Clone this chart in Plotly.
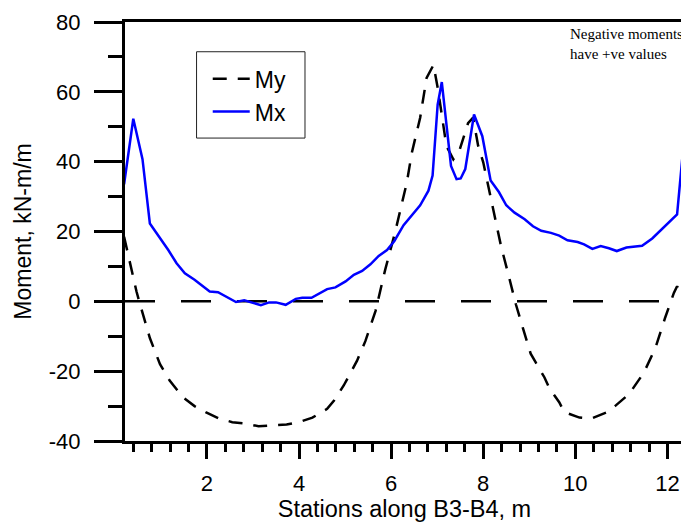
import plotly.graph_objects as go

# Stations (m) and moments (kN-m/m)
my_x = [0.2, 0.37, 0.47, 0.55, 0.76, 0.98, 1.19, 1.48, 1.73, 1.97, 2.27, 2.55, 2.85, 3.12,
        3.46, 3.73, 4.04, 4.29, 4.61, 4.76, 4.97, 5.08, 5.26, 5.44, 5.66, 5.87, 6.09, 6.34,
        6.45, 6.63, 6.77, 6.92, 7.02, 7.20, 7.35, 7.49, 7.67, 7.78, 7.89, 8.0, 8.14, 8.21,
        8.39, 8.54, 8.71, 8.86, 9.03, 9.14, 9.33, 9.44, 9.65, 9.76, 10.09, 10.34, 10.70,
        10.88, 11.17, 11.49, 11.74, 11.95, 12.14, 12.21, 12.38]
my_y = [18.5, 8.5, 2.8, -1.0, -10.5, -18.0, -22.7, -27.5, -30.0, -31.7, -33.6, -34.6, -35.0, -35.8,
        -35.5, -35.3, -34.4, -33.3, -30.8, -28.4, -24.1, -21.3, -17.0, -11.4, -2.8, 9.0, 20.0, 34.0,
        42.6, 52.6, 64.0, 67.7, 60.5, 44.5, 40.7, 43.5, 51.0, 52.6, 44.5, 39.8, 31.3, 26.5,
        15.6, 8.0, -0.9, -7.6, -15.0, -17.5, -21.8, -25.0, -28.9, -31.7, -33.3, -33.6, -31.7,
        -29.8, -26.5, -20.4, -13.3, -4.7, 2.4, 4.3, 0.5]

mx_x = [0.2, 0.4, 0.6, 0.76, 1.16, 1.34, 1.52, 1.73, 2.06, 2.24, 2.63, 2.81, 3.17, 3.35, 3.5,
        3.71, 3.93, 4.07, 4.27, 4.47, 4.61, 4.79, 5.01, 5.19, 5.37, 5.55, 5.73, 5.91, 6.07,
        6.27, 6.63, 6.81, 6.90, 7.01, 7.10, 7.30, 7.42, 7.51, 7.61, 7.80, 7.98, 8.16, 8.34,
        8.5, 8.68, 8.9, 9.08, 9.26, 9.47, 9.65, 9.83, 10.05, 10.19, 10.37, 10.55, 10.73,
        10.9, 11.11, 11.31, 11.45, 11.67, 11.92, 12.21, 12.4]
mx_y = [33.5, 52.3, 40.7, 22.3, 14.7, 10.9, 8.0, 6.2, 2.8, 2.6, -0.2, 0.3, -1.1, -0.3, -0.3,
        -1.0, 0.7, 1.0, 1.0, 2.4, 3.5, 4.0, 5.7, 7.6, 8.7, 10.6, 13.0, 14.7, 17.3,
        21.8, 27.5, 31.7, 36.0, 56.3, 62.8, 38.8, 35.0, 35.2, 37.9, 53.5, 47.3, 34.6, 31.3,
        27.5, 25.4, 23.5, 21.5, 20.2, 19.6, 18.8, 17.5, 17.0, 16.3, 15.0, 15.8, 15.2,
        14.4, 15.4, 15.8, 15.9, 18.0, 21.3, 24.9, 52.0]

x_ticks = [2, 4, 6, 8, 10, 12]
x_ticklabels = ["2", "4", "6", "8", "10", "12"]
y_ticks = [-40, -20, 0, 20, 40, 60, 80]
y_ticklabels = ["-40", "-20", "0", "20", "40", "60", "80"]

FONT = "Liberation Sans, Arial, sans-serif"

fig = go.Figure()
fig.add_trace(go.Scatter(x=my_x, y=my_y, name="My", mode="lines",
                         line=dict(color="black", width=2.5, dash="14px,11px")))
fig.add_trace(go.Scatter(x=mx_x, y=mx_y, name="Mx", mode="lines",
                         line=dict(color="#0000ff", width=2.5)))

# zero reference line
fig.add_shape(type="line", xref="paper", x0=0, x1=1, yref="y", y0=0, y1=0,
              line=dict(color="black", width=2.5, dash="30px,26px"), layer="below")

# legend frame
fig.add_shape(type="rect", xref="paper", yref="paper", x0=0.128, x1=0.322, y0=0.723, y1=0.929,
              line=dict(color="#222", width=1), fillcolor="rgba(0,0,0,0)", layer="above")

fig.add_annotation(text="Negative moments<br>have +ve values", xref="paper", yref="paper",
                   x=0.793, y=0.995, xanchor="left", yanchor="top", align="left",
                   showarrow=False,
                   font=dict(family="Times New Roman, Liberation Serif, serif", size=15, color="black"))

fig.update_layout(
    width=681, height=519,
    margin=dict(l=117, r=2, t=11, b=86),
    paper_bgcolor="white", plot_bgcolor="white",
    font=dict(family=FONT, color="black"),
    legend=dict(x=0.148, y=0.916, xanchor="left", yanchor="top", itemwidth=37,
                borderwidth=0, bgcolor="rgba(0,0,0,0)",
                font=dict(family=FONT, size=23, color="black")),
    xaxis=dict(range=[0.22, 12.36], tickvals=x_ticks, ticktext=x_ticklabels,
               ticks="outside", ticklen=15, tickwidth=2.5, ticklabelstandoff=6,
               ticklabeloverflow="allow",
               tickcolor="black", showline=True, linecolor="black", linewidth=3, mirror=True,
               showgrid=False, zeroline=False, tickfont=dict(size=22),
               minor=dict(dtick=0.4, tick0=0, ticks="outside", ticklen=8, tickwidth=2.5, tickcolor="black"),
               title=dict(text="Stations along B3-B4, m", font=dict(size=23.5), standoff=6)),
    yaxis=dict(range=[-40, 80], tickvals=y_ticks, ticktext=y_ticklabels,
               ticks="outside", ticklen=28, tickwidth=2.5, ticklabelstandoff=9,
               ticklabeloverflow="allow",
               tickcolor="black", showline=True, linecolor="black", linewidth=3, mirror=True,
               showgrid=False, zeroline=False, tickfont=dict(size=22),
               minor=dict(dtick=10, tick0=0, ticks="outside", ticklen=14, tickwidth=2.5, tickcolor="black"),
               title=dict(text="Moment, kN-m/m", font=dict(size=23), standoff=11)),
)

fig.write_html("out.html")
